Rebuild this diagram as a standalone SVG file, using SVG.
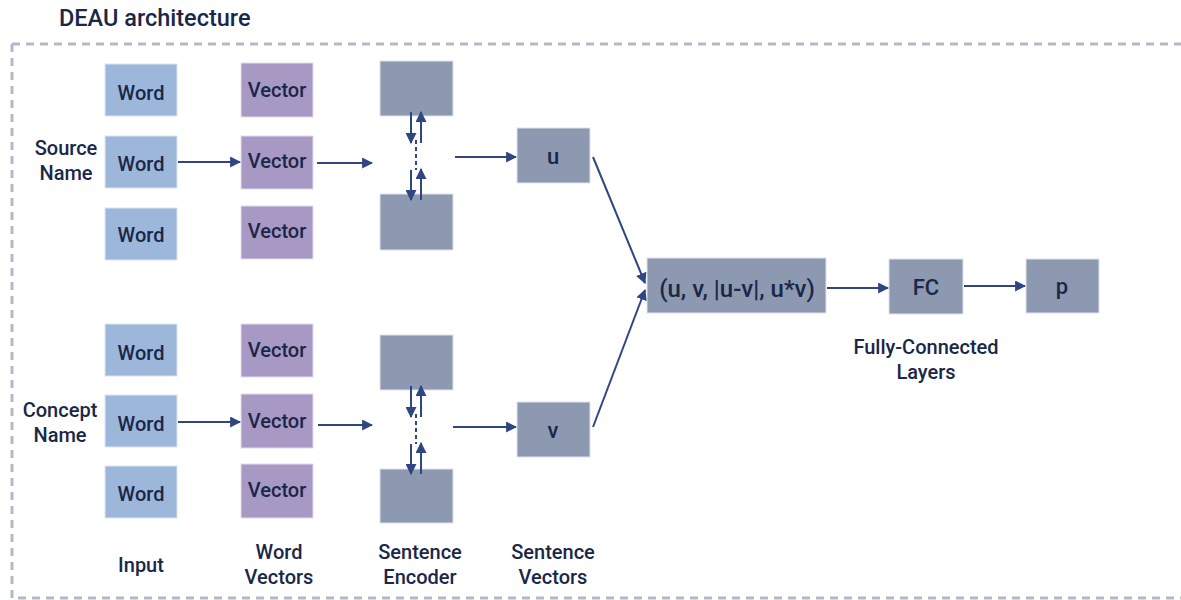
<svg xmlns="http://www.w3.org/2000/svg" width="1181" height="600" viewBox="0 0 1181 600">
<defs>
<style>
text{font-family:Roboto,"Noto Sans",sans-serif;fill:#1a2748;font-size:20px;font-weight:500;text-anchor:middle}
.w{fill:#9cb7da;stroke:#dde5f0;stroke-width:1}
.v{fill:#a898c4;stroke:#e3deee;stroke-width:1}
.g{fill:#8c99b0;stroke:#dfe3ec;stroke-width:1}
.c{stroke:#2f4682;stroke-width:2;fill:none;marker-end:url(#ah)}
.l{stroke:#2f4682;stroke-width:2;fill:none}
</style>
<marker id="ah" viewBox="0 0 10 10" refX="9" refY="5" markerWidth="5.5" markerHeight="5.5" orient="auto" markerUnits="strokeWidth">
<path d="M0,0 L10,5 L0,10 z" fill="#2f4682"/>
</marker>
</defs>
<rect width="1181" height="600" fill="#ffffff"/>
<text x="59" y="26" style="font-size:23.5px;font-weight:500;text-anchor:start">DEAU architecture</text>
<path d="M12,44 H1181 M12,44 V598 H1181" stroke="#b3b9cb" stroke-width="3" stroke-dasharray="8,6" fill="none"/>

<g id="labels">
<text x="66" y="155">Source</text><text x="66" y="180">Name</text>
<text x="60" y="417">Concept</text><text x="60" y="442">Name</text>
<text x="141" y="572">Input</text>
<text x="279" y="559">Word</text><text x="279" y="584">Vectors</text>
<text x="420" y="559">Sentence</text><text x="420" y="584">Encoder</text>
<text x="553" y="559">Sentence</text><text x="553" y="584">Vectors</text>
<text x="926" y="354">Fully-Connected</text><text x="926" y="379">Layers</text>
</g>

<g id="word1"><rect class="w" x="105" y="64" width="72" height="52"/><text x="141" y="100">Word</text></g>
<g id="word2"><rect class="w" x="105" y="136" width="72" height="52"/><text x="141" y="171">Word</text></g>
<g id="word3"><rect class="w" x="105" y="208" width="72" height="52"/><text x="141" y="242">Word</text></g>
<g id="word4"><rect class="w" x="105" y="324" width="72" height="52"/><text x="141" y="360">Word</text></g>
<g id="word5"><rect class="w" x="105" y="395" width="72" height="52"/><text x="141" y="431">Word</text></g>
<g id="word6"><rect class="w" x="105" y="466" width="72" height="52"/><text x="141" y="501">Word</text></g>

<g id="vec1"><rect class="v" x="241" y="63" width="72" height="54"/><text x="277" y="97">Vector</text></g>
<g id="vec2"><rect class="v" x="241" y="136" width="72" height="53"/><text x="277" y="168">Vector</text></g>
<g id="vec3"><rect class="v" x="241" y="206" width="72" height="53"/><text x="277" y="238">Vector</text></g>
<g id="vec4"><rect class="v" x="241" y="324" width="72" height="53"/><text x="277" y="357">Vector</text></g>
<g id="vec5"><rect class="v" x="241" y="394" width="72" height="54"/><text x="277" y="428">Vector</text></g>
<g id="vec6"><rect class="v" x="241" y="464" width="72" height="54"/><text x="277" y="497">Vector</text></g>

<g id="enc1"><rect class="g" x="380" y="61" width="73" height="55"/></g>
<g id="enc2"><rect class="g" x="380" y="194" width="73" height="56"/></g>
<g id="enc3"><rect class="g" x="380" y="335" width="73" height="55"/></g>
<g id="enc4"><rect class="g" x="380" y="469" width="73" height="54"/></g>

<g id="u"><rect class="g" x="517" y="128" width="73" height="55"/><text x="553" y="164" style="font-size:22px">u</text></g>
<g id="v"><rect class="g" x="517" y="402" width="73" height="55"/><text x="553" y="438" style="font-size:22px">v</text></g>
<g id="combine"><rect class="g" x="647" y="258" width="179" height="55"/><text x="737" y="297" style="font-size:24px">(u, v, |u-v|, u*v)</text></g>
<g id="fc"><rect class="g" x="889" y="259" width="74" height="55"/><text x="926" y="295" style="font-size:22px">FC</text></g>
<g id="p"><rect class="g" x="1026" y="259" width="73" height="54"/><text x="1062" y="294" style="font-size:22px">p</text></g>

<g id="connectors">
<path class="c" d="M178,162 H240"/>
<path class="c" d="M178,422 H240"/>
<path class="c" d="M317,163 H372"/>
<path class="c" d="M318,425 H372"/>
<path class="c" d="M411,112 V143"/>
<path class="c" d="M421,143 V112"/>
<path class="l" d="M416,140 V170" stroke-dasharray="4,3"/>
<path class="c" d="M411,170 V200"/>
<path class="c" d="M421,200 V169"/>
<path class="c" d="M411,386 V417"/>
<path class="c" d="M421,417 V386"/>
<path class="l" d="M416,414 V444" stroke-dasharray="4,3"/>
<path class="c" d="M411,444 V474"/>
<path class="c" d="M421,474 V443"/>
<path class="c" d="M455,157 H516"/>
<path class="c" d="M453,427 H516"/>
<path class="c" d="M593,157 L645,283"/>
<path class="c" d="M593,427 L645,290"/>
<path class="c" d="M827,288 H888"/>
<path class="c" d="M964,286 H1025"/>
</g>
</svg>
